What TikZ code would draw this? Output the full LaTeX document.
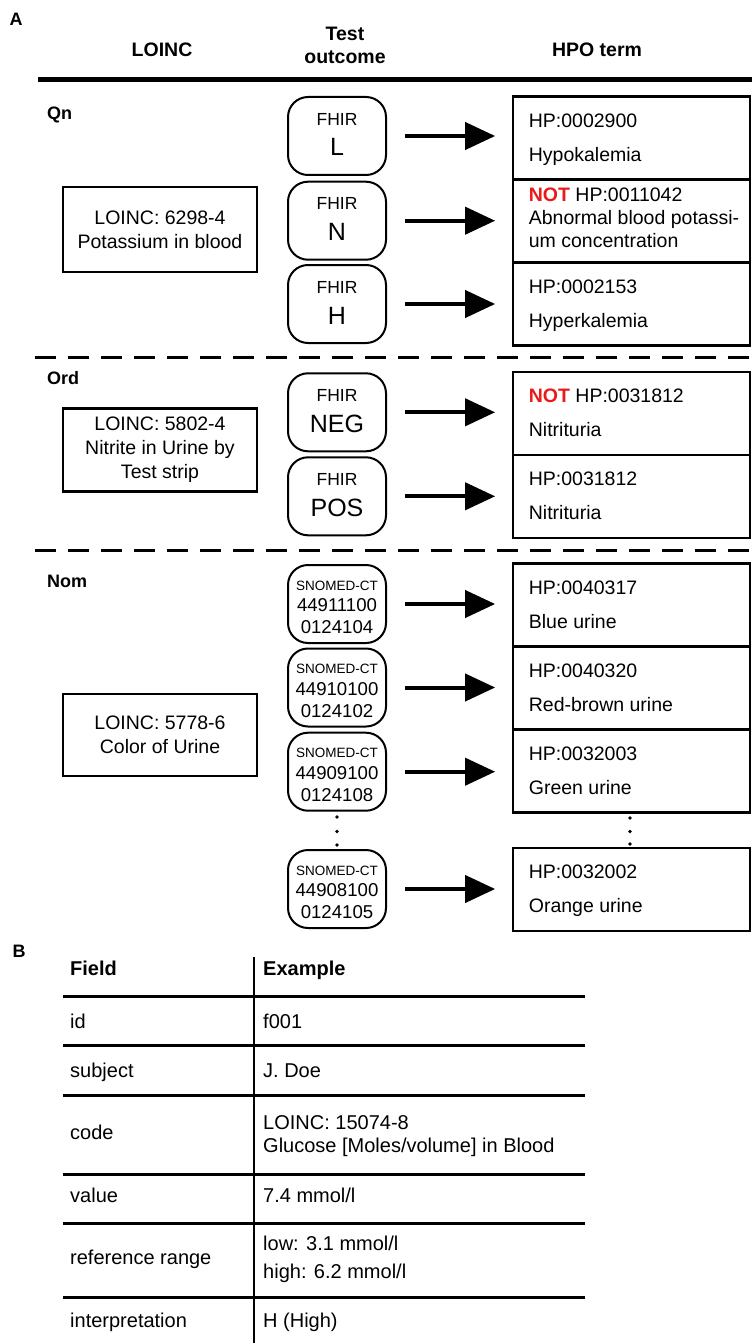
\documentclass[tikz,border=0pt]{standalone}
\usepackage{fontspec}
\setmainfont{Liberation Sans}
\usetikzlibrary{arrows.meta}
\definecolor{notred}{RGB}{235,25,25}
\newcommand\fsz[2]{\fontsize{#1}{#2}\selectfont}
% FHIR pill: name, centre y, big text
\newcommand\fhirpill[3]{%
  \node[pill] (#1) at (337,#2) {};
  \node[fhirsmall] (#1a) at ([yshift=10.75pt]#1.center) {FHIR};
  \node[fhirbig] (#1b) at ([yshift=-20pt]#1.center) {#3};}
% SNOMED pill: name, centre y, number line 1, number line 2
\newcommand\snpill[4]{%
  \node[pill] (#1) at (337,#2) {};
  \node[snsmall] (#1a) at ([yshift=14pt]#1.center) {SNOMED-CT};
  \node[snbig] (#1b) at ([yshift=-7.8pt]#1.center) {#3};
  \node[snbig] (#1c) at ([yshift=-29.5pt]#1.center) {#4};}
% HPO box with two lines: name, top y, line 1, line 2
\newcommand\hpotwo[4]{%
  \node[hpo] (#1) at (631.4,#2+41.5) {};
  \node[hpotxt] (#1a) at ([xshift=17pt,yshift=-32pt]#1.north west) {#3};
  \node[hpotxt] (#1b) at ([xshift=17pt,yshift=-66pt]#1.north west) {#4};}
\begin{document}
\begin{tikzpicture}[x=1pt,y=-1pt,
  pill/.style={draw, line width=2pt, rounded corners=20pt, minimum width=98pt, minimum height=78pt, inner sep=0pt},
  fhirsmall/.style={anchor=base, inner sep=0pt, font=\fsz{17.5}{20}},
  fhirbig/.style={anchor=base, inner sep=0pt, font=\fsz{25}{28}},
  snsmall/.style={anchor=base, inner sep=0pt, font=\fsz{13.5}{15}},
  snbig/.style={anchor=base, inner sep=0pt, font=\fsz{18.6}{21}},
  hpo/.style={draw, line width=2.5pt, minimum width=237pt, minimum height=83pt, inner sep=0pt},
  hpotxt/.style={anchor=base west, inner sep=0pt, font=\fsz{19.5}{23}},
  loinc/.style={draw, line width=2.5pt, minimum width=194pt, align=center, font=\fsz{19.5}{24}},
  arr/.style={line width=4pt, -{Triangle[length=30pt,width=27pt]}},
  hdr/.style={anchor=base, inner sep=0pt, font=\bfseries\fsz{19.5}{22}},
  sect/.style={anchor=base west, inner sep=0pt, font=\bfseries\fsz{18}{20}},
  sep/.style={line width=3pt, dash pattern=on 21pt off 12pt},
  rule/.style={line width=3pt},
  cell/.style={anchor=base west, inner sep=0pt, font=\fsz{20}{23}},
  hcell/.style={anchor=base west, inner sep=0pt, font=\bfseries\fsz{20}{23}},
  panel/.style={font=\bfseries\fsz{18}{20}}
]
\useasboundingbox (0,0) rectangle (752,1343);
\fill[white] (0,0) rectangle (752,1343);

% ---------- Panel A ----------
\node[panel] (labA) at (16,19) {A};
\node[hdr] (hLoinc) at (162,57) {LOINC};
\node[hdr] (hTest1) at (345,41) {Test};
\node[hdr] (hTest2) at (345,64) {outcome};
\node[hdr] (hHpo) at (597,57) {HPO term};
\draw[line width=4.5pt] (38,79.5) -- (752,79.5);

\node[sect] (qn) at (47,120) {Qn};
\node[sect] (ord) at (47,384) {Ord};
\node[sect] (nom) at (47,587) {Nom};

\draw[sep] (35,357) -- (752,357);
\draw[sep] (35,550) -- (752,550);

% LOINC boxes
\node[loinc, minimum height=85pt] (l1) at (160,229.5) {LOINC: 6298-4\\Potassium in blood};
\node[loinc, minimum height=83pt] (l2) at (160,450) {LOINC: 5802-4\\Nitrite in Urine by\\Test strip};
\node[loinc, minimum height=82pt] (l3) at (160,735) {LOINC: 5778-6\\Color of Urine};

% Test outcome pills
\fhirpill{p1}{136}{L}
\fhirpill{p2}{220.7}{N}
\fhirpill{p3}{304}{H}
\fhirpill{p4}{412.3}{NEG}
\fhirpill{p5}{496.3}{POS}
\snpill{p6}{604}{44911100}{0124104}
\snpill{p7}{687.5}{44910100}{0124102}
\snpill{p8}{771.7}{44909100}{0124108}
\snpill{p9}{889}{44908100}{0124105}

% HPO boxes
\hpotwo{h1}{96.7}{HP:0002900}{Hypokalemia}
\node[hpo] (h2) at (631.4,179.5+41.5) {};
\node[hpotxt] (h2a) at ([xshift=17pt,yshift=-23.5pt]h2.north west) {\textcolor{notred}{\bfseries NOT} HP:0011042};
\node[hpotxt] (h2b) at ([xshift=17pt,yshift=-46.5pt]h2.north west) {Abnormal blood potassi-};
\node[hpotxt] (h2c) at ([xshift=17pt,yshift=-69.5pt]h2.north west) {um concentration};
\hpotwo{h3}{262.5}{HP:0002153}{Hyperkalemia}
\hpotwo{h4}{372}{\textcolor{notred}{\bfseries NOT} HP:0031812}{Nitrituria}
\hpotwo{h5}{455}{HP:0031812}{Nitrituria}
\hpotwo{h6}{563.5}{HP:0040317}{Blue urine}
\hpotwo{h7}{646.5}{HP:0040320}{Red-brown urine}
\hpotwo{h8}{729.5}{HP:0032003}{Green urine}
\hpotwo{h9}{848}{HP:0032002}{Orange urine}

% arrows
\foreach \i in {1,...,9}{
  \draw[arr] ([xshift=18pt]p\i.east) -- ([xshift=-16.5pt]p\i.east -| h\i.west);
}

% ellipsis dots
\foreach \yy in {817,831.5,845}{
  \fill (337,\yy) circle (1.8pt);
}
\foreach \yy in {818,831.5,844}{
  \fill (630,\yy) circle (1.8pt);
}

% ---------- Panel B ----------
\node[panel] (labB) at (19,951) {B};
\draw[line width=2.2pt] (254,957) -- (254,1343);
\foreach \yy in {996,1045,1095,1174,1223,1297}{
  \draw[rule] (63,\yy) -- (585,\yy);
}
\node[hcell] (tf) at (70,975) {Field};
\node[hcell] (te) at (263,975) {Example};
\node[cell] (r1a) at (70,1028) {id};
\node[cell] (r1b) at (263,1028) {f001};
\node[cell] (r2a) at (70,1077) {subject};
\node[cell] (r2b) at (263,1077) {J. Doe};
\node[cell] (r3a) at (70,1139) {code};
\node[cell] (r3b) at (263,1129) {LOINC: 15074-8};
\node[cell] (r3c) at (263,1152) {Glucose [Moles/volume] in Blood};
\node[cell] (r4a) at (70,1202) {value};
\node[cell] (r4b) at (263,1202) {7.4 mmol/l};
\node[cell] (r5a) at (70,1264) {reference range};
\node[cell] (r5b) at (263,1250) {low: 3.1 mmol/l};
\node[cell] (r5c) at (263,1278) {high: 6.2 mmol/l};
\node[cell] (r6a) at (70,1327) {interpretation};
\node[cell] (r6b) at (263,1327) {H (High)};
\end{tikzpicture}
\end{document}
